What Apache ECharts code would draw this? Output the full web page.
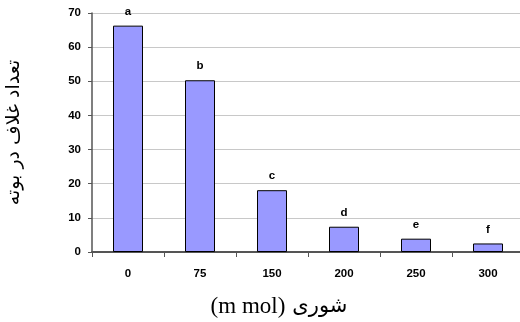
<!DOCTYPE html>
<html><head><meta charset="utf-8">
<script src="https://cdn.jsdelivr.net/npm/echarts@6/dist/echarts.min.js"></script>
<style>html,body{margin:0;padding:0;background:#fff}#c{width:520px;height:322px}</style>
</head><body><div id="c"></div>
<script>
var categories = ['0', '75', '150', '200', '250', '300'];
var values = [66.3, 50.3, 18.1, 7.4, 3.9, 2.5];
var letters = ['a', 'b', 'c', 'd', 'e', 'f'];
var yTicks = [0, 10, 20, 30, 40, 50, 60, 70];

var chart = echarts.init(document.getElementById('c'), null, {renderer: 'canvas'});
chart.setOption({
  animation: false,
  backgroundColor: '#fff',
  grid: {left: 92, top: 13, right: -4, bottom: 70, containLabel: false, outerBoundsMode: 'none'},
  xAxis: {
    type: 'category',
    data: categories,
    name: '{a|(m mol)}{s| }{b|شوری}',
    nameLocation: 'middle',
    nameGap: 43,
    nameTextStyle: {
      color: '#000', padding: [0, 58, 0, 0],
      rich: {
        a: {fontFamily: 'Liberation Serif', fontSize: 23, color: '#000'},
        s: {fontFamily: 'Liberation Serif', fontSize: 23, width: 7},
        b: {fontFamily: 'DejaVu Sans', fontSize: 21, color: '#000'}
      }
    },
    axisLine: {lineStyle: {color: '#555', width: 2}},
    axisTick: {show: true, alignWithLabel: false, length: 5, lineStyle: {color: '#555'}},
    axisLabel: {fontFamily: 'Liberation Sans, Arial', fontWeight: 'bold', fontSize: 11.5, color: '#000', margin: 16}
  },
  yAxis: {
    type: 'value',
    min: yTicks[0], max: yTicks[yTicks.length - 1], interval: 10,
    name: 'تعداد غلاف در بوته',
    nameLocation: 'middle',
    nameGap: 68,
    nameRotate: 90,
    nameTextStyle: {fontFamily: 'DejaVu Sans', fontSize: 19, color: '#000'},
    axisLine: {show: true, lineStyle: {color: '#555', width: 1.5}},
    axisTick: {show: true, length: 4, lineStyle: {color: '#555'}},
    axisLabel: {fontFamily: 'Liberation Sans, Arial', fontWeight: 'bold', fontSize: 11.5, color: '#000', margin: 11},
    splitLine: {show: true, lineStyle: {color: '#c8c8c8', width: 1}}
  },
  series: [{
    type: 'bar',
    data: values,
    barWidth: 30,
    itemStyle: {color: '#9999ff', borderColor: '#000', borderWidth: 1},
    label: {
      show: true, position: 'top', distance: 8,
      fontFamily: 'Liberation Sans, Arial', fontWeight: 'bold', fontSize: 11.5, color: '#000',
      formatter: function (p) { return letters[p.dataIndex]; }
    }
  }]
});
</script></body></html>
